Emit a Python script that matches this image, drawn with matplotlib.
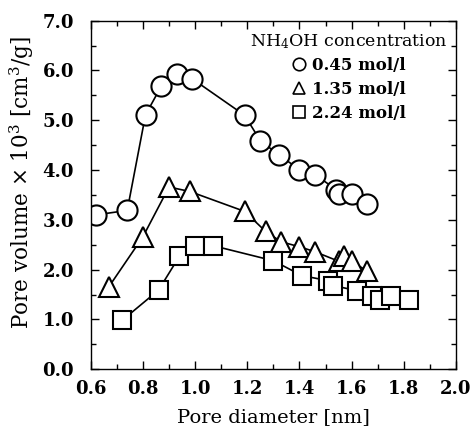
import matplotlib
matplotlib.use("Agg")
import matplotlib.pyplot as plt
from matplotlib.lines import Line2D
from matplotlib.ticker import MultipleLocator, FormatStrFormatter

plt.rcParams['font.family'] = 'DejaVu Serif'
plt.rcParams['mathtext.fontset'] = 'dejavuserif'

# NH4OH 0.45 mol/l (circles)
d_045 = [0.62, 0.74, 0.81, 0.87, 0.93, 0.99, 1.19, 1.25, 1.32, 1.40, 1.46, 1.54, 1.55, 1.60, 1.66]
v_045 = [3.10, 3.19, 5.11, 5.68, 5.93, 5.83, 5.10, 4.59, 4.31, 4.01, 3.91, 3.61, 3.51, 3.51, 3.31]

# 1.35 mol/l (triangles)
d_135 = [0.67, 0.80, 0.90, 0.98, 1.19, 1.27, 1.33, 1.40, 1.46, 1.55, 1.57, 1.60, 1.66]
v_135 = [1.66, 2.66, 3.66, 3.57, 3.17, 2.77, 2.56, 2.46, 2.36, 2.17, 2.28, 2.17, 1.97]

# 2.24 mol/l (squares)
d_224 = [0.72, 0.86, 0.94, 1.00, 1.07, 1.30, 1.41, 1.51, 1.53, 1.62, 1.68, 1.71, 1.75, 1.82]
v_224 = [0.98, 1.59, 2.27, 2.48, 2.48, 2.18, 1.88, 1.78, 1.68, 1.58, 1.48, 1.39, 1.48, 1.39]

labels = ['0.45 mol/l', '1.35 mol/l', '2.24 mol/l']

fig = plt.figure(figsize=(4.73, 4.30), dpi=100)
ax = fig.add_axes([0.1918, 0.1412, 0.7722, 0.8107])

style = dict(color='black', lw=1.2, mfc='white', mec='black', mew=1.5)
ax.plot(d_045, v_045, marker='o', ms=14.5, **style)
ax.plot(d_135, v_135, marker='^', ms=14, **style)
ax.plot(d_224, v_224, marker='s', ms=13.5, **style)

ax.set_xlim(0.6, 2.0)
ax.set_ylim(0.0, 7.0)
ax.xaxis.set_major_locator(MultipleLocator(0.2))
ax.xaxis.set_minor_locator(MultipleLocator(0.1))
ax.yaxis.set_major_locator(MultipleLocator(1.0))
ax.yaxis.set_minor_locator(MultipleLocator(0.5))
ax.xaxis.set_major_formatter(FormatStrFormatter('%.1f'))
ax.yaxis.set_major_formatter(FormatStrFormatter('%.1f'))
ax.tick_params(which='both', direction='in', top=True, right=True, width=1.0)
ax.tick_params(which='major', length=5.5)
ax.tick_params(which='minor', length=3.5)
ax.tick_params(axis='x', pad=8)
ax.tick_params(axis='y', pad=12)
for lab in ax.get_xticklabels() + ax.get_yticklabels():
    lab.set_fontsize(13)
    lab.set_fontweight('bold')
for sp in ax.spines.values():
    sp.set_linewidth(1.0)

ax.set_xlabel('Pore diameter [nm]', fontsize=14, va='center')
ax.xaxis.set_label_coords(0.5, -0.137)
ax.set_ylabel(r'Pore volume $\times$ 10$^3$ [cm$^3$/g]', fontsize=15.5, va='center')
ax.yaxis.set_label_coords(-0.188, 0.536)

handles = [Line2D([], [], ls='none', marker=m, ms=9, mfc='white', mec='black', mew=1.2)
           for m in ['o', '^', 's']]
leg = ax.legend(handles, labels, title=r'NH$_4$OH concentration', loc='upper right',
                bbox_to_anchor=(1.0, 0.992),
                frameon=False, handlelength=0.8, handletextpad=0.4, labelspacing=0.4,
                borderaxespad=0.1, prop={'size': 12, 'weight': 'bold'},
                title_fontproperties={'size': 12.5})

fig.savefig('out.png', dpi=100)
